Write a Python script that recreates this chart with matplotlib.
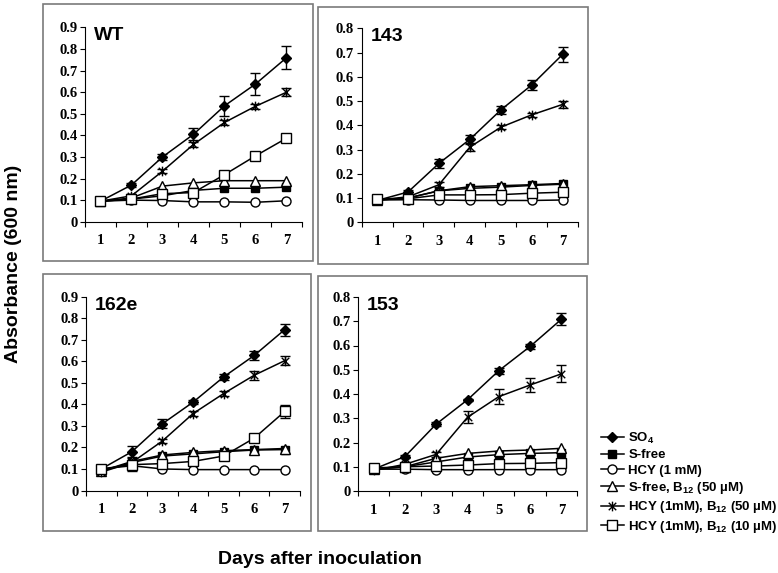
import matplotlib
matplotlib.use('Agg')
import matplotlib.pyplot as plt
from matplotlib.patches import Rectangle
from matplotlib.path import Path
from matplotlib.lines import Line2D

plt.rcParams['mathtext.fontset'] = 'custom'
plt.rcParams['mathtext.default'] = 'regular'

days = [1, 2, 3, 4, 5, 6, 7]
labels = ['SO$_4$', 'S-free', 'HCY (1 mM)', 'S-free, B$_{12}$ (50 \u00b5M)',
          'HCY (1mM), B$_{12}$ (50 \u00b5M)', 'HCY (1mM), B$_{12}$ (10 \u00b5M)']

# mean absorbance, rows follow labels
wt = [[0.095, 0.17, 0.30, 0.405, 0.537, 0.638, 0.76],
      [0.095, 0.105, 0.12, 0.145, 0.155, 0.155, 0.16],
      [0.095, 0.10, 0.098, 0.092, 0.092, 0.09, 0.097],
      [0.095, 0.11, 0.165, 0.18, 0.19, 0.19, 0.19],
      [0.095, 0.12, 0.234, 0.358, 0.46, 0.535, 0.60],
      [0.095, 0.105, 0.13, 0.135, 0.218, 0.305, 0.387]]
wt_err = [[0, 0.01, 0.012, 0.028, 0.047, 0.05, 0.053],
          None, None, None,
          [0, 0.01, 0.01, 0.012, 0.01, 0.012, 0.018],
          [0, 0, 0, 0, 0, 0.008, 0.015]]

m143 = [[0.09, 0.125, 0.243, 0.342, 0.463, 0.566, 0.692],
        [0.092, 0.10, 0.13, 0.14, 0.145, 0.152, 0.157],
        [0.092, 0.093, 0.092, 0.09, 0.09, 0.09, 0.092],
        [0.092, 0.10, 0.13, 0.147, 0.151, 0.155, 0.16],
        [0.092, 0.105, 0.155, 0.31, 0.392, 0.443, 0.486],
        [0.095, 0.097, 0.113, 0.113, 0.114, 0.12, 0.124]]
m143_err = [[0, 0.01, 0.02, 0.018, 0.015, 0.02, 0.03],
            None, None, None,
            [0, 0, 0.01, 0.015, 0.008, 0.008, 0.015],
            None]

m162e = [[0.10, 0.18, 0.31, 0.41, 0.527, 0.627, 0.747],
         [0.09, 0.13, 0.16, 0.17, 0.18, 0.188, 0.19],
         [0.10, 0.115, 0.10, 0.097, 0.097, 0.097, 0.097],
         [0.09, 0.135, 0.165, 0.177, 0.185, 0.19, 0.195],
         [0.085, 0.13, 0.23, 0.357, 0.45, 0.535, 0.603],
         [0.10, 0.12, 0.125, 0.135, 0.16, 0.243, 0.367]]
m162e_err = [[0, 0.025, 0.02, 0.01, 0.012, 0.02, 0.028],
             None, None, None,
             [0, 0, 0.01, 0.01, 0.01, 0.022, 0.02],
             [0, 0.03, 0, 0, 0, 0, 0.03]]

m153 = [[0.09, 0.142, 0.276, 0.376, 0.496, 0.596, 0.708],
        [0.09, 0.10, 0.12, 0.14, 0.15, 0.155, 0.158],
        [0.09, 0.09, 0.088, 0.088, 0.088, 0.088, 0.088],
        [0.09, 0.10, 0.135, 0.155, 0.165, 0.169, 0.176],
        [0.085, 0.11, 0.151, 0.304, 0.389, 0.437, 0.483],
        [0.095, 0.10, 0.103, 0.107, 0.113, 0.114, 0.117]]
m153_err = [[0, 0.005, 0.01, 0.005, 0.012, 0.012, 0.025],
            None, None, None,
            [0, 0, 0.01, 0.025, 0.03, 0.03, 0.035],
            None]

# asterisk marker: x with a vertical bar
star = Path([(-1, -1), (1, 1), (-1, 1), (1, -1), (0, -1.3), (0, 1.3)],
            [Path.MOVETO, Path.LINETO, Path.MOVETO, Path.LINETO, Path.MOVETO, Path.LINETO])

styles = [dict(marker='D', ms=5, mfc='black'),
          dict(marker='s', ms=5.5, mfc='black'),
          dict(marker='o', ms=6.5, mfc='white'),
          dict(marker='^', ms=7, mfc='white'),
          dict(marker=star, ms=7, mfc='black'),
          dict(marker='s', ms=6.5, mfc='white')]

W, H = 778, 573
fig = plt.figure(figsize=(W / 100, H / 100), dpi=100)

def px_axes(l, r, t, b):
    return fig.add_axes([l / W, 1 - b / H, (r - l) / W, (b - t) / H])

# frames around each panel
for (l, r, t, b) in [(43, 313, 4, 261), (318, 588, 7, 264), (43, 311, 274, 531), (318, 587, 276, 531)]:
    fig.patches.append(Rectangle((l / W, 1 - b / H), (r - l) / W, (b - t) / H,
                                 transform=fig.transFigure, fill=False,
                                 edgecolor='#7a7a7a', linewidth=1.2))

panels = [('WT', wt, wt_err, 0.9, (85, 302, 27.5, 221.7)),
          ('143', m143, m143_err, 0.8, (361.7, 578, 28.3, 222.3)),
          ('162e', m162e, m162e_err, 0.9, (86, 300, 296.7, 490.5)),
          ('153', m153, m153_err, 0.8, (358, 577, 297, 491))]

tick_font = dict(family='Liberation Serif', weight='bold', size=10.5)

for name, data, errs, ymax, box in panels:
    ax = px_axes(*box)
    for i in range(6):
        st = styles[i]
        ax.plot(days, data[i], color='black', lw=1.1, marker=st['marker'],
                ms=st['ms'], mfc=st['mfc'], mec='black', mew=1.0, zorder=3)
        if errs[i] is not None:
            ax.errorbar(days, data[i], yerr=errs[i], fmt='none', ecolor='black',
                        elinewidth=1.0, capsize=3.5, capthick=1.0, zorder=2)
    ax.set_xlim(0.5, 7.5)
    ax.set_ylim(0, ymax)
    ax.set_yticks([k / 10 for k in range(int(round(ymax * 10)) + 1)])
    ax.set_yticklabels(['0'] + ['%.1f' % (k / 10) for k in range(1, int(round(ymax * 10)) + 1)],
                       fontdict=tick_font)
    ax.set_xticks(days)
    ax.set_xticklabels([str(d) for d in days], fontdict=tick_font)
    ax.set_xticks([d + 0.5 for d in range(0, 8)], minor=True)
    ax.tick_params(axis='x', which='major', length=0, pad=9)
    ax.tick_params(axis='x', which='minor', length=3.5, direction='out', width=0.8)
    ax.tick_params(axis='y', length=3.5, direction='out', width=0.8, pad=2)
    for s in ['top', 'right']:
        ax.spines[s].set_visible(False)
    for s in ['left', 'bottom']:
        ax.spines[s].set_linewidth(0.8)
    ax.set_facecolor('none')
    ax.text(0.04, 1.0, name, transform=ax.transAxes, ha='left', va='top',
            family='Liberation Sans', weight='bold', fontsize=14)

handles = [Line2D([], [], color='black', lw=1.1, marker=st['marker'], ms=st['ms'],
                  mfc=st['mfc'], mec='black', mew=1.0) for st in styles]
fig.legend(handles, labels, loc='upper left', bbox_to_anchor=(594 / W, 1 - 424 / H),
           frameon=False, handlelength=1.8, handletextpad=0.3, labelspacing=0.25,
           borderpad=0, prop=dict(family='Liberation Sans', weight='bold', size=9.5))

fig.text(14 / W, 1 - 264 / H, 'Absorbance (600 nm)', rotation=90, ha='center', va='center',
         family='Liberation Sans', weight='bold', fontsize=14)
fig.text(320 / W, 1 - 560 / H, 'Days after inoculation', ha='center', va='center',
         family='Liberation Sans', weight='bold', fontsize=14)

fig.savefig('out.png', dpi=100)
